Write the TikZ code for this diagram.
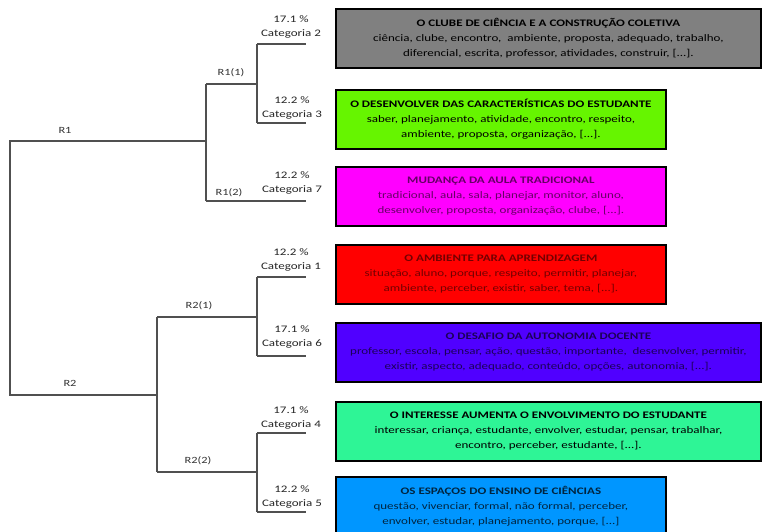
\documentclass[tikz,border=0pt]{standalone}
\usepackage{fontspec}
\setmainfont[FakeStretch=1.3]{Carlito}
\definecolor{cgray}{HTML}{808080}
\definecolor{cgreen}{HTML}{66F500}
\definecolor{cmag}{HTML}{FF00FF}
\definecolor{cred}{HTML}{FF0000}
\definecolor{cviol}{HTML}{5000FF}
\definecolor{cteal}{HTML}{2EF596}
\definecolor{cblue}{HTML}{0096FF}
\definecolor{treeline}{HTML}{505050}
\begin{document}
\begin{tikzpicture}[x=1pt,y=-1pt,
  catbox/.style={draw=black, line width=1.8pt, anchor=north west, inner sep=0pt,
    minimum height=59pt, align=center, font=\fontsize{10}{15}\selectfont, text=black},
  tree/.style={draw=treeline, line width=1.4pt},
  rlab/.style={font=\fontsize{9.5}{10}\selectfont, text=black!80},
  leaflab/.style={font=\fontsize{10}{14}\selectfont, align=center, text=black!85}]
\clip (0,0) rectangle (762,532);
\fill[white] (0,0) rectangle (762,532);
% boxes
\node[catbox, fill=cgray, minimum width=425pt] (b2) at (335,8)
 {\textbf{O CLUBE DE CIÊNCIA E A CONSTRUÇÃO COLETIVA}\\ ciência, clube, encontro,\ \ ambiente, proposta, adequado, trabalho,\\ diferencial, escrita, professor, atividades, construir, [...].};
\node[catbox, fill=cgreen, minimum width=330pt] (b3) at (335,89)
 {\textbf{O DESENVOLVER DAS CARACTERÍSTICAS DO ESTUDANTE}\\ saber, planejamento, atividade, encontro, respeito,\\ ambiente, proposta, organização, [...].};
\node[catbox, fill=cmag, minimum width=330pt, text=cmag!40!black] (b7) at (335,166)
 {\textbf{MUDANÇA DA AULA TRADICIONAL}\\ tradicional, aula, sala, planejar, monitor, aluno,\\ desenvolver, proposta, organização, clube, [...].};
\node[catbox, fill=cred, minimum width=330pt, text=cred!45!black] (b1) at (335,244)
 {\textbf{O AMBIENTE PARA APRENDIZAGEM}\\ situação, aluno, porque, respeito, permitir, planejar,\\ ambiente, perceber, existir, saber, tema, [...].};
\node[catbox, fill=cviol, minimum width=425pt, text=cviol!35!black] (b6) at (335,322)
 {\textbf{O DESAFIO DA AUTONOMIA DOCENTE}\\ professor, escola, pensar, ação, questão, importante,\ \ desenvolver, permitir,\\ existir, aspecto, adequado, conteúdo, opções, autonomia, [...].};
\node[catbox, fill=cteal, minimum width=425pt] (b4) at (335,401)
 {\textbf{O INTERESSE AUMENTA O ENVOLVIMENTO DO ESTUDANTE}\\ interessar, criança, estudante, envolver, estudar, pensar, trabalhar,\\ encontro, perceber, estudante, [...].};
\node[catbox, fill=cblue, minimum width=330pt, text=cblue!25!black] (b5) at (335,476)
 {\textbf{OS ESPAÇOS DO ENSINO DE CIÊNCIAS}\\ questão, vivenciar, formal, não formal, perceber,\\ envolver, estudar, planejamento, porque, [...]};
% tree coordinates
\coordinate (root1) at (10,141);
\coordinate (root2) at (10,395);
\coordinate (n1) at (206,141);
\coordinate (n1t) at (206,84);
\coordinate (n1b) at (206,201);
\coordinate (n11) at (257,84);
\coordinate (n11t) at (257,44);
\coordinate (n11b) at (257,123);
\coordinate (leaf2) at (306,44);
\coordinate (leaf3) at (306,123);
\coordinate (leaf7) at (306,201);
\coordinate (n2) at (157,395);
\coordinate (n2t) at (157,317);
\coordinate (n2b) at (157,472);
\coordinate (n21) at (257,317);
\coordinate (n21t) at (257,277);
\coordinate (n21b) at (257,356);
\coordinate (leaf1) at (306,277);
\coordinate (leaf6) at (306,356);
\coordinate (n22) at (257,472);
\coordinate (n22t) at (257,433);
\coordinate (n22b) at (257,512);
\coordinate (leaf4) at (306,433);
\coordinate (leaf5) at (306,512);
% tree lines
\draw[tree] (n1) -- (root1) -- (root2) -- (n2);
\draw[tree] (n1t) -- (n1b);
\draw[tree] (n1t) -- (n11);
\draw[tree] (n11t) -- (n11b);
\draw[tree] (n11t) -- (leaf2);
\draw[tree] (n11b) -- (leaf3);
\draw[tree] (n1b) -- (leaf7);
\draw[tree] (n2t) -- (n2b);
\draw[tree] (n2t) -- (n21);
\draw[tree] (n21t) -- (n21b);
\draw[tree] (n21t) -- (leaf1);
\draw[tree] (n21b) -- (leaf6);
\draw[tree] (n2b) -- (n22);
\draw[tree] (n22t) -- (n22b);
\draw[tree] (n22t) -- (leaf4);
\draw[tree] (n22b) -- (leaf5);
% branch labels
\node[rlab] (lR1) at (65,130) {R1};
\node[rlab] (lR11) at (231,73) {R1(1)};
\node[rlab] (lR12) at (229,193) {R1(2)};
\node[rlab] (lR2) at (70,383) {R2};
\node[rlab] (lR21) at (199,306) {R2(1)};
\node[rlab] (lR22) at (198,461) {R2(2)};
% leaf labels
\node[leaflab] (c2) at (291,27) {17.1 \%\\Categoria 2};
\node[leaflab] (c3) at (292,107.5) {12.2 \%\\Categoria 3};
\node[leaflab] (c7) at (292,182.5) {12.2 \%\\Categoria 7};
\node[leaflab] (c1) at (291,260) {12.2 \%\\Categoria 1};
\node[leaflab] (c6) at (292,337) {17.1 \%\\Categoria 6};
\node[leaflab] (c4) at (291,417.5) {17.1 \%\\Categoria 4};
\node[leaflab] (c5) at (292,497) {12.2 \%\\Categoria 5};
\end{tikzpicture}
\end{document}
